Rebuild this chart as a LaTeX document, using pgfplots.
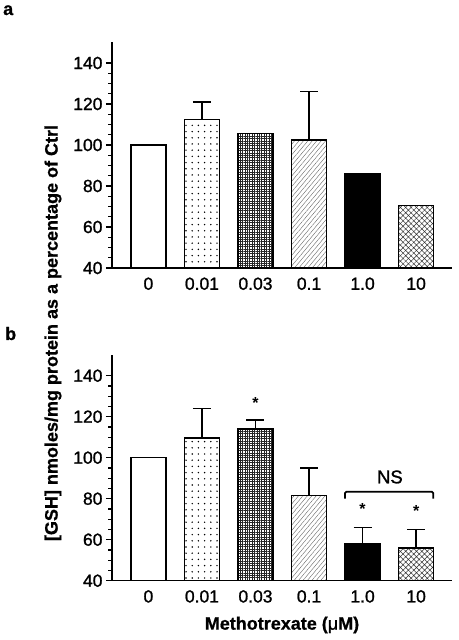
\documentclass[border=0pt]{standalone}
\usepackage{fontspec}
\setmainfont{Liberation Sans}
\newfontfamily\tickfont{Liberation Sans}[FakeBold=1.2]
\newfontfamily\heavyfont{Liberation Sans Bold}[FakeBold=0.8]
\usepackage{pgfplots}
\pgfplotsset{compat=1.18}
\usetikzlibrary{patterns.meta}

\pgfplotsset{
 myaxis/.style={
  scale only axis, width=340pt, height=225.5pt,
  xmin=-0.68, xmax=5.67, ymin=40, ymax=150,
  axis lines*=left,
  axis line style={line width=1.5pt},
  xtick={0,...,5}, xticklabels={0,0.01,0.03,0.1,1.0,10},
  x tick style={draw=none},
  ytick={40,60,...,140}, minor y tick num=3,
  tick align=outside,
  y tick style={line width=1.2pt, black},
  major tick length=6pt, minor tick length=3.5pt,
  tick label style={font=\tickfont\fontsize{17.5}{20}\selectfont},
  /pgf/number format/assume math mode=true,
  ybar, bar width=35pt, bar shift=0pt,
  every axis plot/.append style={draw=black, line width=1.5pt},
 },
 witherr/.style={error bars/.cd, y dir=plus, y explicit,
   error bar style={line width=1.5pt, black},
   error mark options={rotate=90, mark size=9pt, line width=1.5pt, black}},
}

\begin{document}
\begin{tikzpicture}[x=1pt,y=1pt]
\path[use as bounding box] (0,0) rectangle (458,640);

% Panel a
\begin{axis}[myaxis, at={(112pt,372pt)}, anchor=south west]
\addplot[fill=white] coordinates {(0,100)};
\addplot[pattern={Dots[radius=0.8pt,distance=6.2pt]}, witherr] coordinates {(1,112.5) +- (0,8.5)};
\addplot[pattern={Hatch[angle=0,distance=2.4pt,line width=0.5pt]}, pattern color=black!85] coordinates {(2,105.5)};
\addplot[pattern={Lines[angle=50,distance=3.4pt,line width=0.4pt]}, pattern color=black!60, witherr] coordinates {(3,102.5) +- (0,23.5)};
\addplot[fill=black] coordinates {(4,86)};
\addplot[pattern={Hatch[angle=45,distance=3.8pt,line width=0.5pt]}, pattern color=black!80] coordinates {(5,70.5)};
\end{axis}

% Panel b
\begin{axis}[myaxis, at={(112pt,59.3pt)}, anchor=south west]
\addplot[fill=white] coordinates {(0,100)};
\addplot[pattern={Dots[radius=0.8pt,distance=6.2pt]}, witherr] coordinates {(1,109.5) +- (0,14.5)};
\addplot[pattern={Hatch[angle=0,distance=2.4pt,line width=0.5pt]}, pattern color=black!85, witherr] coordinates {(2,114) +- (0,4.5)};
\addplot[pattern={Lines[angle=50,distance=3.4pt,line width=0.4pt]}, pattern color=black!60, witherr] coordinates {(3,81.5) +- (0,13.5)};
\addplot[fill=black, witherr] coordinates {(4,58) +- (0,8)};
\addplot[pattern={Hatch[angle=45,distance=3.8pt,line width=0.5pt]}, pattern color=black!80, witherr] coordinates {(5,56) +- (0,9)};
\node[font=\bfseries\fontsize{16}{16}\selectfont] at (axis cs:2,126.5) {*};
\node[font=\bfseries\fontsize{16}{16}\selectfont] at (axis cs:4,75) {*};
\node[font=\bfseries\fontsize{16}{16}\selectfont] at (axis cs:5,74) {*};
\draw[line width=1.8pt, rounded corners=1.5pt] (axis cs:3.67,80.0) -- (axis cs:3.67,83.4) -- (axis cs:5.32,83.4) -- (axis cs:5.32,80.0);
\node[font=\tickfont\fontsize{18.5}{20}\selectfont] at (axis cs:4.51,90.6) {NS};
\end{axis}

\node[font=\heavyfont\fontsize{18}{20}\selectfont, anchor=base west, inner sep=0pt] at (3,625) {a};
\node[font=\heavyfont\fontsize{18}{20}\selectfont, anchor=base west, inner sep=0pt] at (5,300) {b};
\node[rotate=90, font=\heavyfont\fontsize{18}{20}\selectfont] at (53,307) {[GSH] nmoles/mg protein as a percentage of Ctrl};
\node[font=\heavyfont\fontsize{18}{20}\selectfont] at (282,15) {Methotrexate ({\tickfont μ}M)};
\end{tikzpicture}
\end{document}
